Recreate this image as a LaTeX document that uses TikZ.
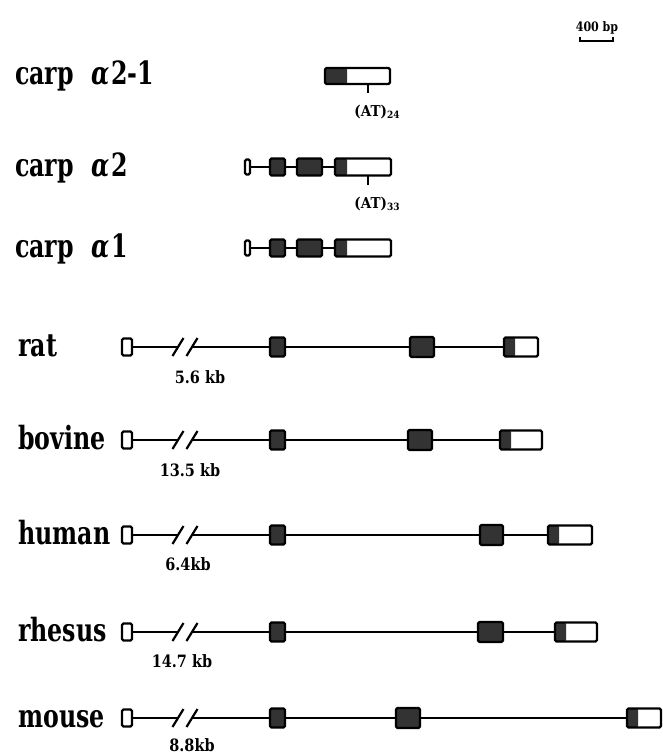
\documentclass[tikz,border=0pt]{standalone}
\usepackage{fontspec}
\setmainfont{DejaVu Serif}
\definecolor{exfill}{gray}{0.2}
\newcommand\Lab[1]{\scalebox{0.74}[1]{\bfseries\fontsize{32}{32}\selectfont #1}}
\newcommand\Kb[1]{\scalebox{0.85}[1]{\bfseries\fontsize{17}{17}\selectfont #1}}
\newcommand\ATl[1]{\scalebox{0.9}[1]{\bfseries\fontsize{15}{15}\selectfont (AT)\raisebox{-2.5pt}{\fontsize{10}{10}\selectfont #1}}}
\tikzset{
  exon/.style={draw, line width=2.4pt, rounded corners=1.5pt, inner sep=0pt, outer sep=0pt, fill=exfill},
  utr/.style={draw, line width=2.4pt, rounded corners=1.5pt, inner sep=0pt, outer sep=0pt, fill=white},
  lastexon/.style={utr, path picture={\fill[exfill] (path picture bounding box.south west) rectangle ([xshift=#1]path picture bounding box.north west);}},
  intron/.style={line width=2.2pt},
  lab/.style={anchor=base west, inner sep=0pt},
  kb/.style={inner sep=0pt},
  smalltxt/.style={inner sep=0pt},
}
\newcommand\vrow[9]{%
  \node[lab] (#1lab) at (18,{#3+9}) {\Lab{#2}};
  \node[utr, minimum width=10pt, minimum height=17pt] (#1e1) at (127,#3) {};
  \node[exon, minimum width=15pt, minimum height=19pt] (#1e2) at (277.5,#3) {};
  \node[exon, minimum width={(#7-#6)*1pt}, minimum height=20pt] (#1e3) at ({(#6+#7)/2},#3) {};
  \node[lastexon=11pt, minimum width={(#9-#8)*1pt}, minimum height=19pt] (#1e4) at ({(#8+#9)/2},#3) {};
  \coordinate (#1b1) at (178,#3);
  \coordinate (#1b2) at (192,#3);
  \draw[intron] (#1e1) -- (#1b1);
  \draw[intron] (#1b2) -- (#1e2);
  \draw[intron] (#1e2) -- (#1e3);
  \draw[intron] (#1e3) -- (#1e4);
  \draw[intron] ([shift={(-5.5,9)}]#1b1) -- ([shift={(5.5,-9)}]#1b1);
  \draw[intron] ([shift={(-5.5,9)}]#1b2) -- ([shift={(5.5,-9)}]#1b2);
  \node[kb] (#1kb) at (#5) {\Kb{#4}};
}
\newcommand\crow[2]{%
  \node[utr, minimum width=5pt, minimum height=15pt] (#1e1) at (247.5,#2) {};
  \node[exon, minimum width=15pt, minimum height=17pt] (#1e2) at (277.5,#2) {};
  \node[exon, minimum width=25pt, minimum height=17pt] (#1e3) at (309.5,#2) {};
  \node[lastexon=12pt, minimum width=56pt, minimum height=17pt] (#1e4) at (363,#2) {};
  \draw[intron] (#1e1) -- (#1e2);
  \draw[intron] (#1e2) -- (#1e3);
  \draw[intron] (#1e3) -- (#1e4);
}
\begin{document}
\begin{tikzpicture}[x=1pt,y=-1pt]
\useasboundingbox (0,0) rectangle (663,754);
% scale bar
\node[smalltxt] (sbt) at (597,28) {\scalebox{0.85}[1]{\bfseries\fontsize{13}{13}\selectfont 400 bp}};
\coordinate (sb1) at (580,41);
\coordinate (sb2) at (613,41);
\draw[line width=1.8pt] ([yshift=4pt]sb1) -- (sb1) -- (sb2) -- ([yshift=4pt]sb2);
% carp alpha2-1
\node[lab] (c21lab) at (15,85) {\Lab{carp}\hspace{18pt}\Lab{\itshape α}\hspace{1pt}\Lab{2-1}};
\node[lastexon=22pt, minimum width=65pt, minimum height=16pt] (c21e) at (357.5,76) {};
\coordinate (c21t) at (368,93);
\draw[line width=1.8pt] (c21e.south -| c21t) -- (c21t);
\node[smalltxt] (c21at) at (377,112) {\ATl{24}};
% carp alpha2
\node[lab] (c2lab) at (15,176) {\Lab{carp}\hspace{18pt}\Lab{\itshape α}\hspace{1pt}\Lab{2}};
\crow{c2}{167}
\coordinate (c2t) at (368,185);
\draw[line width=1.8pt] (c2e4.south -| c2t) -- (c2t);
\node[smalltxt] (c2at) at (377,204) {\ATl{33}};
% carp alpha1
\node[lab] (c1lab) at (15,257) {\Lab{carp}\hspace{18pt}\Lab{\itshape α}\hspace{1pt}\Lab{1}};
\crow{c1}{248}
% vertebrates
\vrow{rat}{rat}{347}{5.6 kb}{200,377}{410}{434}{504}{538}
\vrow{bov}{bovine}{440}{13.5 kb}{190,470}{408}{432}{500}{542}
\vrow{hum}{human}{535}{6.4kb}{188,564}{480}{503}{548}{592}
\vrow{rhe}{rhesus}{632}{14.7 kb}{182,661}{478}{503}{555}{597}
\vrow{mou}{mouse}{718}{8.8kb}{192,745}{396}{420}{627}{661}
\end{tikzpicture}
\end{document}
